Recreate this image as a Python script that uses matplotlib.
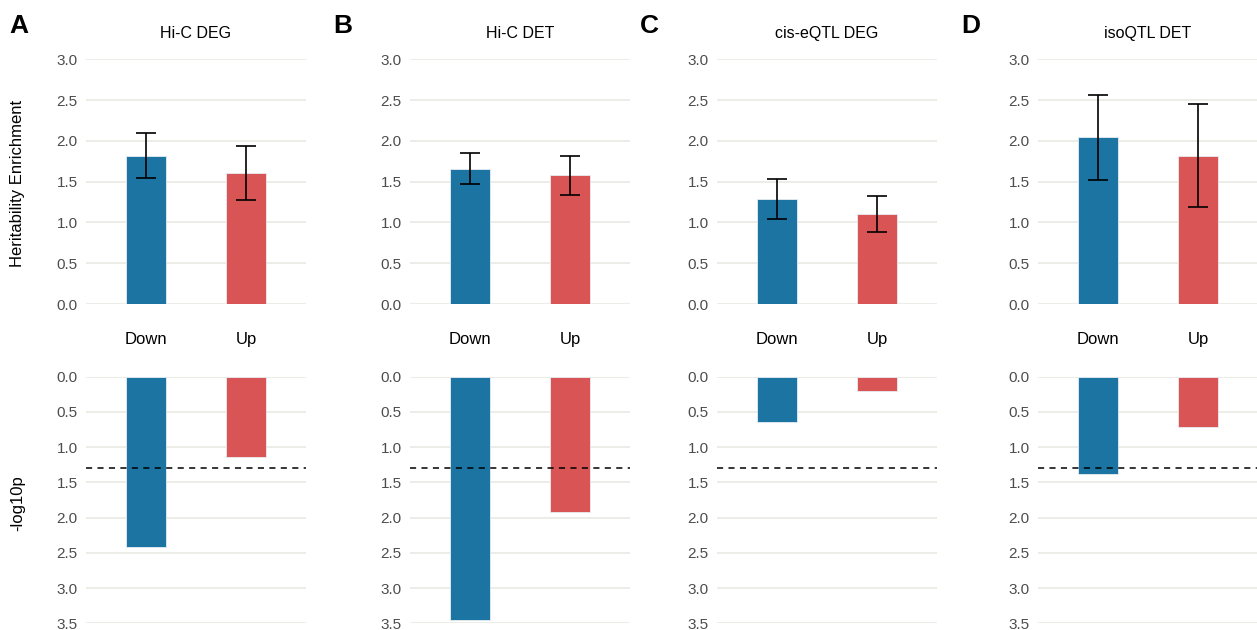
import matplotlib
matplotlib.use('Agg')
import matplotlib.pyplot as plt
import numpy as np

plt.rcParams['font.family'] = ['Liberation Sans', 'DejaVu Sans']

# data per panel
panel_titles = ['Hi-C DEG', 'Hi-C DET', 'cis-eQTL DEG', 'isoQTL DET']
panel_letters = ['A', 'B', 'C', 'D']
categories = ['Down', 'Up']

enrich_down = [1.82, 1.66, 1.29, 2.045]
enrich_up = [1.61, 1.58, 1.10, 1.82]
err_down = [0.275, 0.19, 0.245, 0.52]
err_up = [0.33, 0.24, 0.22, 0.63]

logp_down = [2.42, 3.46, 0.65, 1.38]
logp_up = [1.14, 1.92, 0.21, 0.72]
sig_line = 1.3

BLUE = '#1c74a2'
RED = '#d95555'
GRID = '#e8e8e2'
TICK = '#4d4d4d'

W, H = 1257, 630
fig = plt.figure(figsize=(W / 100, H / 100), dpi=100)
fig.patch.set_facecolor('white')

left_px = [86, 410, 717, 1038]
ax_w = 220


def px_box(x0, y_top, w, y_bot):
    return [x0 / W, 1 - y_bot / H, w / W, (y_bot - y_top) / H]


def style(ax, ylim, yticks):
    ax.set_xlim(-0.6, 1.6)
    ax.set_ylim(*ylim)
    ax.set_yticks(yticks)
    ax.set_yticklabels([f'{t:.1f}' for t in yticks])
    ax.set_xticks([])
    for s in ax.spines.values():
        s.set_visible(False)
    ax.tick_params(axis='y', length=0, pad=6, labelsize=11, labelcolor=TICK)
    ax.grid(axis='y', color=GRID, lw=1.1, zorder=0)
    ax.set_axisbelow(True)


x = np.arange(len(categories))
for i in range(4):
    # enrichment bars
    ax = fig.add_axes(px_box(left_px[i], 59.3, ax_w, 304))
    style(ax, (0, 3.0), np.arange(0, 3.01, 0.5))
    vals = [enrich_down[i], enrich_up[i]]
    errs = [err_down[i], err_up[i]]
    ax.bar(x, vals, width=0.4, color=[BLUE, RED], edgecolor='#e8eef3',
           linewidth=0.6, zorder=2)
    ax.errorbar(x, vals, yerr=errs, fmt='none', ecolor='black', elinewidth=1.2,
                capsize=7, capthick=1.2, zorder=3)
    ax.set_title(panel_titles[i], fontsize=11.5, pad=15)
    for xi, c in zip(x, categories):
        ax.text(xi, -0.43, c, ha='center', va='center', fontsize=12,
                transform=ax.transData, clip_on=False)

    # -log10 p bars, pointing down
    bx = fig.add_axes(px_box(left_px[i], 376.7, ax_w, 623.3))
    style(bx, (3.5, 0), np.arange(0, 3.51, 0.5))
    bx.bar(x, [logp_down[i], logp_up[i]], width=0.4, color=[BLUE, RED],
           edgecolor='#e8eef3', linewidth=0.6, zorder=2)
    bx.axhline(sig_line, color='black', lw=1.1, ls=(0, (4, 3.5)), zorder=3)

    fig.text((left_px[i] - 77) / W, 1 - 26 / H, panel_letters[i],
             fontsize=19, fontweight='bold', ha='left', va='center')

fig.text(18 / W, 1 - 183 / H, 'Heritability Enrichment', rotation=90,
         ha='center', va='center', fontsize=12)
fig.text(18 / W, 1 - 503 / H, '-log10p', rotation=90,
         ha='center', va='center', fontsize=12)

fig.savefig('out.png', dpi=100, facecolor='white')
